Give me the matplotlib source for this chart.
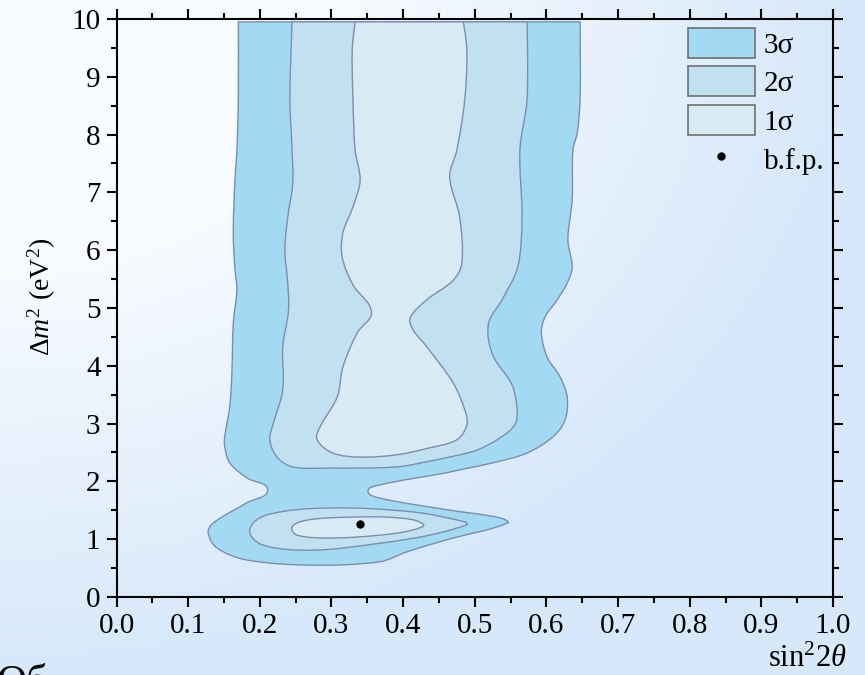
import numpy as np
import matplotlib
matplotlib.use('Agg')
import matplotlib.pyplot as plt
from matplotlib.path import Path
from matplotlib.patches import PathPatch, Patch
from matplotlib.lines import Line2D
from matplotlib.ticker import MultipleLocator, FormatStrFormatter

plt.rcParams['font.family'] = ['Liberation Serif', 'DejaVu Serif']
plt.rcParams['mathtext.fontset'] = 'custom'
plt.rcParams['mathtext.rm'] = 'Liberation Serif'
plt.rcParams['mathtext.it'] = 'Liberation Serif:italic'

# contour outlines (sin^2 2theta, dm^2)
x_3s = [0.170, 0.647, 0.647, 0.643, 0.637, 0.636, 0.630, 0.636, 0.629, 0.615, 0.598, 0.593,
        0.601, 0.619, 0.629, 0.626, 0.609, 0.573, 0.525, 0.479, 0.461, 0.368, 0.351, 0.368,
        0.461, 0.535, 0.546, 0.461, 0.405, 0.368, 0.274, 0.182, 0.140, 0.128, 0.135, 0.182,
        0.211, 0.182, 0.158, 0.151, 0.151, 0.158, 0.161, 0.163, 0.168, 0.165, 0.163, 0.165,
        0.168, 0.170]
y_3s = [9.95, 9.95, 8.60, 8.03, 7.73, 6.87, 6.18, 5.71, 5.43, 5.14, 4.84, 4.57,
        4.15, 3.81, 3.46, 3.06, 2.77, 2.49, 2.32, 2.20, 2.15, 1.94, 1.83, 1.71,
        1.51, 1.37, 1.28, 0.99, 0.78, 0.61, 0.55, 0.64, 0.85, 1.11, 1.28, 1.63,
        1.85, 2.06, 2.32, 2.60, 2.77, 3.29, 3.88, 4.74, 5.31, 5.71, 6.30, 7.16,
        7.73, 8.60]

x_2s = [0.245, 0.573, 0.573, 0.563, 0.566, 0.560, 0.538, 0.519, 0.525, 0.552, 0.559,
        0.556, 0.535, 0.503, 0.479, 0.437, 0.391, 0.298, 0.246, 0.224, 0.214, 0.219, 0.232,
        0.232, 0.240, 0.239, 0.235, 0.239, 0.246, 0.245, 0.242]
y_2s = [9.95, 9.95, 8.60, 7.73, 6.57, 5.71, 5.14, 4.72, 4.19, 3.67, 3.24,
        2.98, 2.75, 2.54, 2.46, 2.35, 2.25, 2.23, 2.25, 2.42, 2.72, 3.01, 3.58,
        4.33, 4.95, 5.43, 6.00, 6.57, 7.16, 7.73, 8.60]

x_1s = [0.333, 0.484, 0.489, 0.486, 0.475, 0.465, 0.479, 0.482, 0.470, 0.433, 0.410, 0.414,
        0.433, 0.470, 0.486, 0.489, 0.475, 0.437, 0.391, 0.340, 0.302, 0.280, 0.284, 0.308,
        0.316, 0.336, 0.356, 0.330, 0.315, 0.316, 0.330, 0.340, 0.333, 0.330, 0.329]
y_1s = [9.95, 9.95, 9.46, 8.60, 7.73, 7.27, 6.57, 5.78, 5.48, 5.14, 4.83, 4.62,
        4.33, 3.70, 3.24, 2.98, 2.72, 2.58, 2.46, 2.42, 2.49, 2.72, 2.94, 3.46,
        3.98, 4.57, 4.93, 5.40, 5.88, 6.30, 6.75, 7.21, 7.73, 8.60, 9.46]

x_2s_low = [0.186, 0.210, 0.298, 0.414, 0.486, 0.489, 0.437, 0.368, 0.274, 0.204]
y_2s_low = [1.16, 1.42, 1.54, 1.47, 1.30, 1.25, 1.07, 0.93, 0.81, 0.90]

x_1s_low = [0.245, 0.266, 0.322, 0.391, 0.428, 0.414, 0.368, 0.298, 0.252]
y_1s_low = [1.21, 1.33, 1.38, 1.37, 1.26, 1.16, 1.07, 1.02, 1.07]

bfp_x, bfp_y = 0.340, 1.26

labels = ['3σ', '2σ', '1σ', 'b.f.p.']
c3, c2, c1 = '#a3daf3', '#c2e1f0', '#d8ebf4'
edge = '#7c8db0'


def smooth_path(xs, ys, sharp=()):
    # closed smooth outline through the read points, as bezier curves
    s = np.array([716.7, 57.8])  # work in screen-like units
    q = np.column_stack([xs, ys]) * s
    n = len(q)
    d = np.roll(q, -1, axis=0) - np.roll(q, 1, axis=0)
    d = d / np.linalg.norm(d, axis=1)[:, None]
    for i in sharp:
        d[i] = 0
    verts = [q[0]]
    codes = [Path.MOVETO]
    for i in range(n):
        j = (i + 1) % n
        L = np.linalg.norm(q[j] - q[i])
        verts += [q[i] + d[i] * L / 3.0, q[j] - d[j] * L / 3.0, q[j]]
        codes += [Path.CURVE4] * 3
    verts.append(q[0])
    codes.append(Path.CLOSEPOLY)
    return Path(np.array(verts) / s, codes)


fig = plt.figure(figsize=(8.65, 6.75), dpi=100)

# background gradient
bg = fig.add_axes([0, 0, 1, 1], zorder=-10)
u, v = np.meshgrid(np.linspace(0, 1, 300), np.linspace(0, 1, 240))
tt = np.clip((np.hypot(u, v) - 0.38) / 0.62, 0, 1)
white = np.array([0.975, 0.985, 1.0])
blue = np.array([0.84, 0.91, 0.98])
img = white[None, None, :] * (1 - tt[..., None]) + blue[None, None, :] * tt[..., None]
bg.imshow(img, aspect='auto', extent=[0, 1, 1, 0])
bg.axis('off')

ax = fig.add_axes([0.1347, 0.1156, 0.8283, 0.8563])
ax.set_facecolor('none')

ax.add_patch(PathPatch(smooth_path(x_3s, y_3s, sharp=(0, 1)), facecolor=c3, edgecolor=edge, lw=1.0))
ax.add_patch(PathPatch(smooth_path(x_2s, y_2s, sharp=(0, 1)), facecolor=c2, edgecolor=edge, lw=1.0))
ax.add_patch(PathPatch(smooth_path(x_2s_low, y_2s_low), facecolor=c2, edgecolor=edge, lw=1.0))
ax.add_patch(PathPatch(smooth_path(x_1s, y_1s, sharp=(0, 1)), facecolor=c1, edgecolor=edge, lw=1.0))
ax.add_patch(PathPatch(smooth_path(x_1s_low, y_1s_low), facecolor=c1, edgecolor=edge, lw=1.0))
ax.plot([bfp_x], [bfp_y], 'o', color='black', ms=5)

ax.set_xlim(0, 1)
ax.set_ylim(0, 10)
ax.xaxis.set_major_locator(MultipleLocator(0.1))
ax.xaxis.set_minor_locator(MultipleLocator(0.05))
ax.yaxis.set_major_locator(MultipleLocator(1))
ax.yaxis.set_minor_locator(MultipleLocator(0.5))
ax.xaxis.set_major_formatter(FormatStrFormatter('%.1f'))
ax.tick_params(which='both', direction='out', top=True, right=True, labelsize=21, width=1.5, pad=4)
ax.tick_params(which='major', length=7.5)
ax.tick_params(which='minor', length=4)
for s in ax.spines.values():
    s.set_linewidth(1.5)

ax.text(-0.104, 0.52, r'$\mathit{\Delta m}^{2}$ (eV$^{2}$)', transform=ax.transAxes,
        rotation=90, ha='center', va='center', fontsize=20)
ax.text(1.019, -0.121, r'sin$^{2}$2$\theta$', transform=ax.transAxes,
        ha='right', va='baseline', fontsize=22)

handles = [Patch(facecolor=c3, edgecolor='#707070', lw=1.2),
           Patch(facecolor=c2, edgecolor='#707070', lw=1.2),
           Patch(facecolor=c1, edgecolor='#707070', lw=1.2),
           Line2D([], [], ls='none', marker='o', color='black', ms=5)]
ax.legend(handles, labels, loc='upper right', bbox_to_anchor=(1.0, 1.0), frameon=False,
          fontsize=21, handlelength=2.3, handleheight=1.2, labelspacing=0.27,
          handletextpad=0.3, borderaxespad=0.2, borderpad=0.1)

# partly visible caption text at the lower left, cut by the edge as in the original
fig.text(-0.004, -0.028, 'Об', fontsize=30, ha='left', va='baseline')

fig.savefig('out.png', dpi=100)
